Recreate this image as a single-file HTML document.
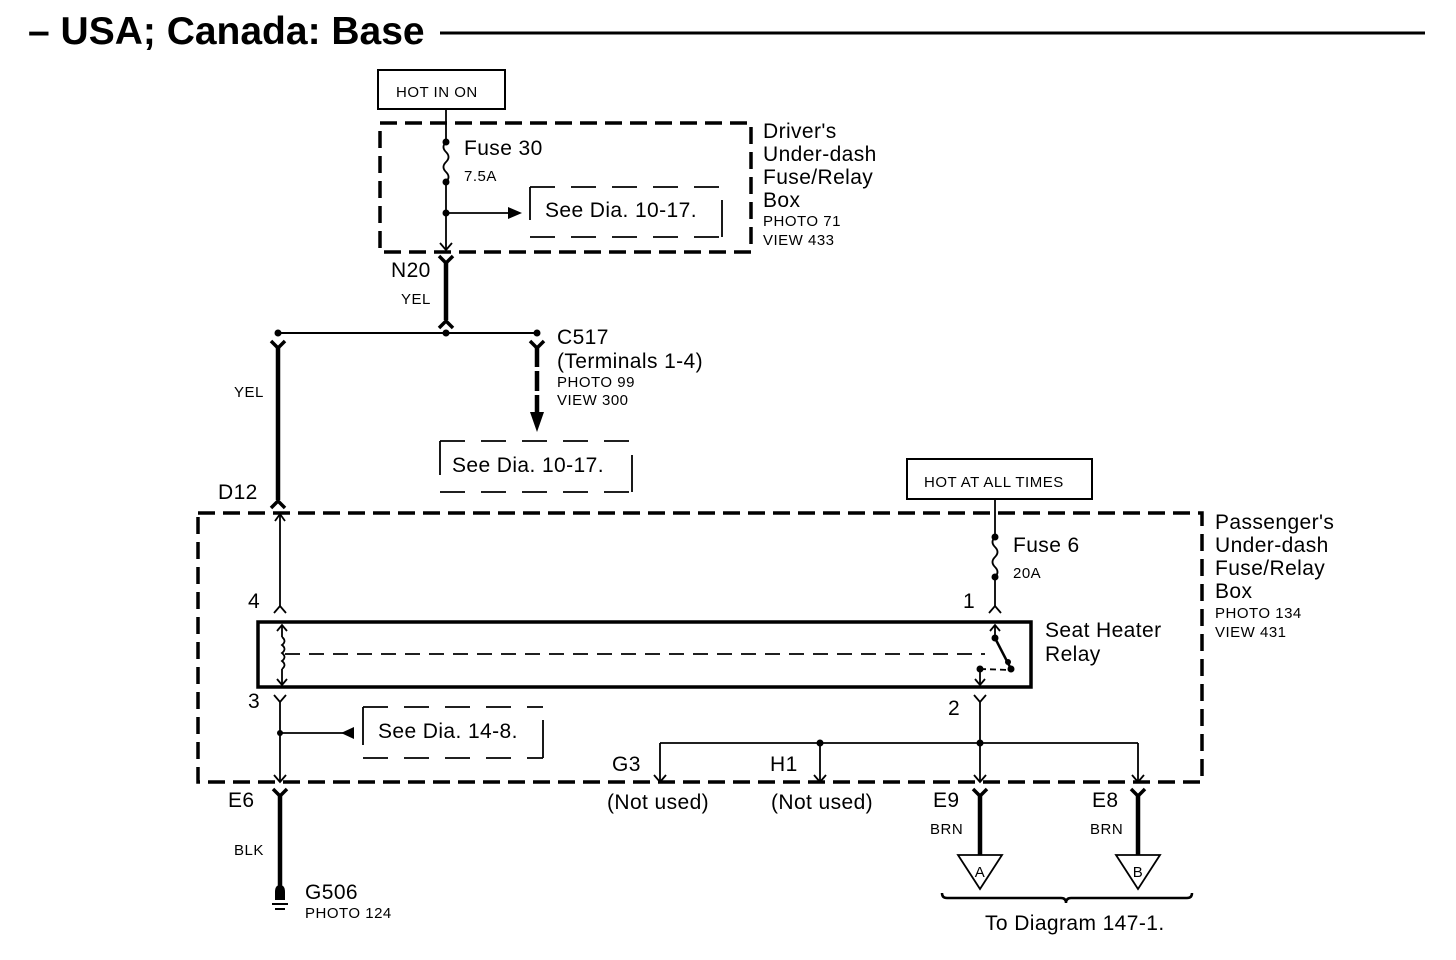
<!DOCTYPE html>
<html><head><meta charset="utf-8"><style>
html,body{margin:0;padding:0;background:#fff;}
svg{display:block;}
text{font-family:"Liberation Sans",Arial,sans-serif;fill:#000;}
.b{font-size:21px;letter-spacing:0.4px;}
.s{font-size:15px;letter-spacing:0.5px;}
</style></head><body>
<svg width="1456" height="960" viewBox="0 0 1456 960" xmlns="http://www.w3.org/2000/svg">
<!-- Title -->
<text x="28" y="44" style="font-size:39px;font-weight:bold">– USA; Canada: Base</text>
<line x1="440" y1="33" x2="1425" y2="33" stroke="#000" stroke-width="3"/>

<!-- HOT IN ON -->
<rect x="378" y="70" width="127" height="39" fill="none" stroke="#000" stroke-width="2"/>
<text x="396" y="97" class="s">HOT IN ON</text>

<!-- Driver's box -->
<rect x="380" y="123" width="371" height="129" fill="none" stroke="#000" stroke-width="3.5" stroke-dasharray="17,8"/>
<text x="763" y="138" class="b">Driver's</text>
<text x="763" y="161" class="b">Under-dash</text>
<text x="763" y="184" class="b">Fuse/Relay</text>
<text x="763" y="207" class="b">Box</text>
<text x="763" y="226" class="s">PHOTO 71</text>
<text x="763" y="245" class="s">VIEW 433</text>

<g stroke="#000" stroke-width="1.8" fill="none">
<line x1="446" y1="109" x2="446" y2="142"/>
<path d="M446,142 q-5,5 0,10 q5,5 0,10 q-5,5 0,10 q5,5 0,10"/>
<line x1="446" y1="182" x2="446" y2="250"/>
<line x1="446" y1="213" x2="510" y2="213"/>
<path d="M440,243 L446,250 L452,243"/>
</g>
<path d="M508,207 L522,213 L508,219z" fill="#000"/>
<circle cx="446" cy="142" r="3.5"/><circle cx="446" cy="182" r="3.5"/><circle cx="446" cy="213" r="3.5"/>
<text x="464" y="155" class="b">Fuse 30</text>
<text x="464" y="181" class="s">7.5A</text>
<g stroke="#000" stroke-width="1.8" fill="none">
<path d="M530,187 H722" stroke-dasharray="25,16"/>
<path d="M530,237 H722" stroke-dasharray="25,16"/>
<line x1="530" y1="187" x2="530" y2="220"/>
<line x1="722" y1="200" x2="722" y2="237"/>
</g>
<text x="545" y="217" class="b">See Dia. 10-17.</text>

<!-- N20 -->
<g stroke="#000" fill="none">
<path d="M439,256 L446,263 L453,256" stroke-width="3.5"/>
<line x1="446" y1="262" x2="446" y2="320" stroke-width="4.5"/>
<path d="M439,328 L446,321 L453,328" stroke-width="3.5"/>
<line x1="278" y1="333" x2="537" y2="333" stroke-width="2"/>
</g>
<text x="391" y="277" class="b">N20</text>
<text x="401" y="304" class="s">YEL</text>
<circle cx="278" cy="333" r="3.5"/><circle cx="446" cy="333" r="3.5"/><circle cx="537" cy="333" r="3.5"/>

<g stroke="#000" fill="none">
<path d="M271,341 L278,348 L285,341" stroke-width="3.5"/>
<line x1="278" y1="347" x2="278" y2="500" stroke-width="4.5"/>
<path d="M271,508 L278,501 L285,508" stroke-width="3.5"/>
</g>
<text x="234" y="397" class="s">YEL</text>
<text x="218" y="499" class="b">D12</text>

<!-- C517 -->
<g stroke="#000" fill="none">
<path d="M530,341 L537,348 L544,341" stroke-width="3.5"/>
<line x1="537" y1="347" x2="537" y2="415" stroke-width="4.5" stroke-dasharray="20,4"/>
</g>
<path d="M530,412 L537,432 L544,412z" fill="#000"/>
<text x="557" y="344" class="b">C517</text>
<text x="557" y="368" class="b">(Terminals 1-4)</text>
<text x="557" y="387" class="s">PHOTO 99</text>
<text x="557" y="405" class="s">VIEW 300</text>
<g stroke="#000" stroke-width="1.8" fill="none">
<path d="M440,441 H632" stroke-dasharray="25,16"/>
<path d="M440,492 H632" stroke-dasharray="25,16"/>
<line x1="440" y1="441" x2="440" y2="475"/>
<line x1="632" y1="455" x2="632" y2="492"/>
</g>
<text x="452" y="472" class="b">See Dia. 10-17.</text>

<!-- HOT AT ALL TIMES -->
<rect x="907" y="459" width="185" height="40" fill="none" stroke="#000" stroke-width="2"/>
<text x="924" y="487" class="s">HOT AT ALL TIMES</text>

<!-- Passenger's box -->
<rect x="198" y="513" width="1004" height="269" fill="none" stroke="#000" stroke-width="3.5" stroke-dasharray="17,8"/>
<text x="1215" y="529" class="b">Passenger's</text>
<text x="1215" y="552" class="b">Under-dash</text>
<text x="1215" y="575" class="b">Fuse/Relay</text>
<text x="1215" y="598" class="b">Box</text>
<text x="1215" y="618" class="s">PHOTO 134</text>
<text x="1215" y="637" class="s">VIEW 431</text>

<g stroke="#000" stroke-width="1.8" fill="none">
<line x1="280" y1="514" x2="280" y2="607"/>
<path d="M275,521 L280,514 L285,521"/>
<path d="M274,613 L280,606 L286,613"/>
<line x1="995" y1="499" x2="995" y2="537"/>
<path d="M995,537 q-5,5 0,10 q5,5 0,10 q-5,5 0,10 q5,5 0,10"/>
<line x1="995" y1="577" x2="995" y2="607"/>
<path d="M989,613 L995,606 L1001,613"/>
</g>
<circle cx="995" cy="537" r="3.5"/><circle cx="995" cy="577" r="3.5"/>
<text x="1013" y="552" class="b">Fuse 6</text>
<text x="1013" y="578" class="s">20A</text>
<text x="248" y="608" class="b">4</text>
<text x="963" y="608" class="b">1</text>

<!-- Relay -->
<rect x="258" y="622" width="773" height="65" fill="none" stroke="#000" stroke-width="3.5"/>
<text x="1045" y="637" class="b">Seat Heater</text>
<text x="1045" y="661" class="b">Relay</text>
<g stroke="#000" stroke-width="1.8" fill="none">
<line x1="282" y1="625" x2="282" y2="637"/>
<path d="M277,631 L282,625 L287,631"/>
<path d="M282,637 q5,4 0,8 q5,4 0,8 q5,4 0,8 q5,4 0,8"/>
<line x1="282" y1="669" x2="282" y2="685"/>
<path d="M277,679 L282,685 L287,679"/>
<line x1="285" y1="654" x2="985" y2="654" stroke-dasharray="15,9"/>
<line x1="995" y1="625" x2="995" y2="638"/>
<path d="M990,631 L995,625 L1000,631"/>
<line x1="995" y1="638" x2="1011" y2="669" stroke-width="2.5"/>
<line x1="980" y1="669" x2="1011" y2="670" stroke-dasharray="6,4"/>
<line x1="980" y1="669" x2="980" y2="685"/>
<path d="M975,679 L980,685 L985,679"/>
</g>
<circle cx="995" cy="638" r="3.5"/><circle cx="1008" cy="662" r="3"/><circle cx="1011" cy="669" r="3.5"/><circle cx="980" cy="669" r="3.5"/>

<text x="248" y="708" class="b">3</text>
<text x="948" y="715" class="b">2</text>
<g stroke="#000" stroke-width="1.8" fill="none">
<path d="M274,695 L280,702 L286,695"/>
<line x1="280" y1="702" x2="280" y2="782"/>
<path d="M274,775 L280,782 L286,775"/>
<line x1="280" y1="733" x2="345" y2="733"/>
<path d="M974,695 L980,702 L986,695"/>
<line x1="980" y1="702" x2="980" y2="782"/>
<line x1="660" y1="743" x2="1138" y2="743"/>
<line x1="660" y1="743" x2="660" y2="782"/>
<line x1="820" y1="743" x2="820" y2="782"/>
<line x1="1138" y1="743" x2="1138" y2="782"/>
<path d="M654,775 L660,782 L666,775"/>
<path d="M814,775 L820,782 L826,775"/>
<path d="M974,775 L980,782 L986,775"/>
<path d="M1132,775 L1138,782 L1144,775"/>
</g>
<path d="M341,733 L354,727 L354,739z" fill="#000"/>
<circle cx="280" cy="733" r="3"/><circle cx="820" cy="743" r="3.5"/><circle cx="980" cy="743" r="3.5"/>
<g stroke="#000" stroke-width="1.8" fill="none">
<path d="M363,707 H543" stroke-dasharray="25,16"/>
<path d="M363,758 H543" stroke-dasharray="25,16"/>
<line x1="363" y1="707" x2="363" y2="745"/>
<line x1="543" y1="720" x2="543" y2="758"/>
</g>
<text x="378" y="738" class="b">See Dia. 14-8.</text>
<text x="612" y="771" class="b">G3</text>
<text x="770" y="771" class="b">H1</text>
<text x="607" y="809" class="b">(Not used)</text>
<text x="771" y="809" class="b">(Not used)</text>

<g stroke="#000" fill="none">
<path d="M273,789 L280,796 L287,789" stroke-width="3.5"/>
<line x1="280" y1="795" x2="280" y2="888" stroke-width="4.5"/>
<path d="M973,789 L980,796 L987,789" stroke-width="3.5"/>
<line x1="980" y1="795" x2="980" y2="855" stroke-width="4.5"/>
<path d="M1131,789 L1138,796 L1145,789" stroke-width="3.5"/>
<line x1="1138" y1="795" x2="1138" y2="855" stroke-width="4.5"/>
<line x1="272" y1="904" x2="288" y2="904" stroke-width="2"/>
<line x1="275" y1="909" x2="285" y2="909" stroke-width="2"/>
<path d="M958,855 L1002,855 L980,889z" stroke-width="1.8"/>
<path d="M1116,855 L1160,855 L1138,889z" stroke-width="1.8"/>
<path d="M942,893 q0,5 5,5 H1061 q5,0 5,5 q0,-5 5,-5 H1187 q5,0 5,-5" stroke-width="2.5"/>
</g>
<path d="M275,900 L275,892 Q275,885 280,885 Q285,885 285,892 L285,900z" fill="#000"/>
<text x="228" y="807" class="b">E6</text>
<text x="234" y="855" class="s">BLK</text>
<text x="305" y="899" class="b">G506</text>
<text x="305" y="918" class="s">PHOTO 124</text>
<text x="933" y="807" class="b">E9</text>
<text x="930" y="834" class="s">BRN</text>
<text x="1092" y="807" class="b">E8</text>
<text x="1090" y="834" class="s">BRN</text>
<text x="980" y="877" class="s" text-anchor="middle">A</text>
<text x="1138" y="877" class="s" text-anchor="middle">B</text>
<text x="985" y="930" class="b">To Diagram 147-1.</text>
</svg>
</body></html>
